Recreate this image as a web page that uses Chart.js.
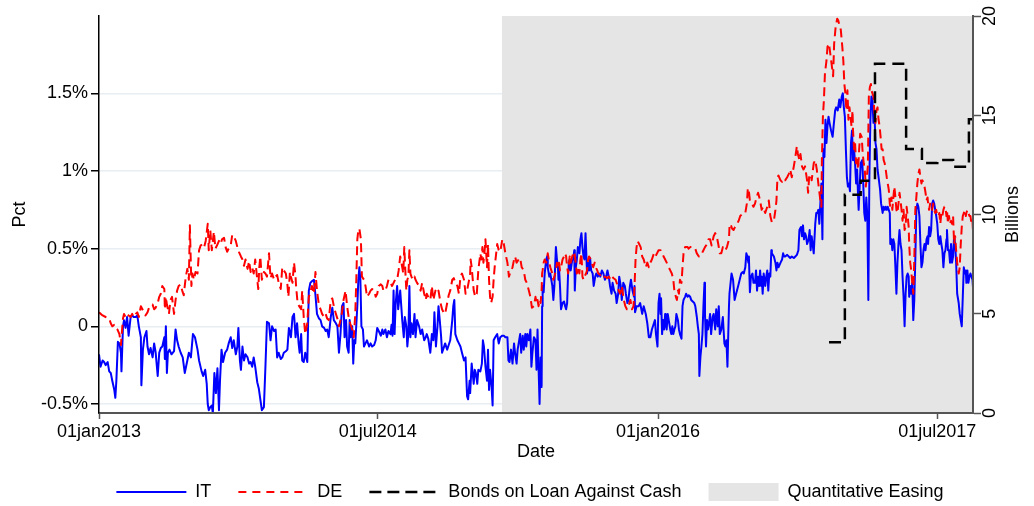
<!DOCTYPE html>
<html>
<head>
<meta charset="utf-8">
<script src="https://cdn.jsdelivr.net/npm/chart.js@4.4.0/dist/chart.umd.min.js"></script>
<style>
  html, body { margin: 0; padding: 0; background: #fff; }
</style>
</head>
<body>
<canvas id="myChart" width="1034" height="506"></canvas>
<script>
// x values are days since 01jan2013
const itDays = [
  0,3,7,10,13,17,20,23,26,30, 32,34,37,40,43,44,47,49,52,55, 58,62,65,68,72,75,78,82,83,86,
  89,93,95,98,101,105,108,111,115,118, 121,124,128,129,131,133,135,138,142,147, 150,153,156,160,164,168,173,176,180,184,
  188,193,196,201,204,208,211,213,215,218, 221,223,226,229,232,235,237,240,243,247, 251,254,258,261,264,268,271,273,276,278,
  281,284,287,291,294,297,300,303,306,310, 313,316,319,323,326,329,333,336,339,343, 346,349,352,356,359,362,366,369,372,376,
  379,382,385,388,391,393,396,398,401,404, 408,411,414,417,421,424,427,431,434,437, 441,444,447,450,454,457,460,464,467,470,
  473,476,479,481,484,486,489,491,493,496, 498,500,502,506,508,510,512,514,517,519, 522,525,529,532,535,539,542,545,548,552,
  555,557,561,564,567,571,573,575,577,579, 581,584,586,588,590,594,597,599,602,604, 606,608,610,612,615,618,620,623,627,630,
  633,637,640,642,645,649,652,655,657,660, 663,665,668,670,672,675,678,682,685,688, 692,694,696,698,702,705,708,711,715,718,
  721,723,726,727,730,734,736,738,741,743, 747,750,752,754,757,760,762,764,766,769, 771,773,776,780,783,786,790,793,796,800,
  802,804,807,810,813,815,818,820,823,825, 827,830,832,835,837,839,842,845,847,849, 852,855,857,859,861,863,865,867,868,869,
  871,873,876,878,879,882,884,886,888,890, 892,895,897,899,900,901,903,905,908,911, 913,915,917,919,920,922,924,927,929,931,
  932,934,936,938,941,943,945,947,949,951, 953,956,958,960,962,964,967,969,972,974, 977,980,982,985,988,991,994,996,999,1001,
  1004,1006,1009,1012,1014,1017,1019,1022,1024,1027, 1030,1032,1035,1037,1040,1042,1045,1048,1049,1050, 1053,1057,1060,1064,1067,1071,1074,1077,1080,1083,
  1087,1089,1091,1094,1096,1098,1100,1101,1103,1105, 1107,1109,1110,1112,1114,1117,1119,1121,1123,1125, 1127,1129,1131,1134,1136,1138,1141,1143,1145,1148,
  1150,1153,1155,1158,1160,1163,1166,1168,1171,1173, 1175,1176,1178,1180,1182,1184,1186,1187,1189,1191, 1193,1195,1197,1199,1202,1204,1207,1209,1212,1214,
  1216,1219,1222,1225,1227,1229,1231,1234,1235,1239, 1242,1245,1248,1252,1255,1258,1261,1263,1266,1268, 1270,1272,1273,1275,1277,1280,1282,1285,1287,1289,
  1291,1293,1295,1297,1298,1300,1302,1305,1307,1309, 1311,1313,1315,1317,1318,1322,1325,1327,1329,1331, 1335,1338,1340,1342,1344,1348,1351,1354,1357,1361,
  1364,1367,1370,1372,1375,1377,1379,1381,1383,1385, 1387,1390,1392,1394,1396,1400,1403,1405,1407,1409, 1411,1413,1415,1417,1419,1421,1423,1425,1427,1429,
  1431,1434,1437,1439,1442,1444,1447,1450,1452,1455, 1457,1459,1461,1463,1465,1467,1469,1471,1473,1475, 1477,1479,1481,1483,1485,1487,1488,1490,1492,1495,
  1497,1499,1501,1503,1505,1507,1509,1511,1513,1515, 1517,1519,1521,1523,1525,1527,1530,1532,1535,1537, 1539,1541,1543,1545,1547,1549,1550,1552,1554,1556,
  1558,1560,1562,1564,1566,1568,1570,1572,1574,1576, 1578,1580,1582,1584,1586,1587,1589,1591,1593,1595, 1597,1599,1601,1603,1605,1607,1609,1611,1613,1615,
  1617,1619,1621,1623,1624,1626,1628,1630,1632,1634, 1636,1638,1640,1642,1644,1646,1648,1650,1652,1654, 1656,1658,1660,1661,1663,1665,1667,1669,1671,1673,
  1675,1677,1679,1681,1684,1686,1688,1690,1692,1694, 1696,1698,1699,1701,1703,1705,1707,1709,1711, 1712
]
const itPct = [
  -0.18,-0.26,-0.22,-0.23,-0.25,-0.23,-0.29,-0.30,-0.35,-0.41, -0.46,-0.35,-0.10,-0.11,-0.17,-0.29,0.00,0.04,-0.01,0.06, -0.06,0.06,0.07,0.06,0.06,0.07,0.00,-0.07,-0.38,-0.15,
  -0.07,-0.03,-0.13,-0.18,-0.14,-0.20,-0.11,-0.17,-0.32,-0.17, -0.14,-0.13,-0.07,-0.21,0.00,-0.30,-0.17,-0.15,-0.18,-0.16, -0.02,-0.09,-0.13,-0.17,-0.20,-0.30,-0.22,-0.17,-0.20,-0.05,
  -0.07,-0.15,-0.22,-0.29,-0.32,-0.28,-0.37,-0.50,-0.54,-0.52, -0.51,-0.56,-0.30,-0.43,-0.27,-0.54,-0.35,-0.15,-0.23,-0.17, -0.15,-0.11,-0.07,-0.14,-0.09,-0.18,-0.13,-0.01,-0.22,-0.28,
  -0.13,-0.22,-0.18,-0.20,-0.24,-0.23,-0.26,-0.20,-0.26,-0.36, -0.40,-0.47,-0.54,-0.52,-0.26,0.03,0.02,-0.09,0.00,-0.03, -0.02,-0.20,-0.17,-0.21,-0.20,-0.17,-0.16,-0.15,-0.01,-0.07,
  0.06,0.08,-0.07,0.02,-0.11,-0.17,-0.05,-0.22,-0.23,-0.17, -0.23,0.23,0.28,0.29,0.30,0.20,0.08,0.05,0.04,0.00, -0.01,-0.03,-0.02,-0.07,0.06,0.12,0.04,0.02,0.00,-0.17,
  -0.05,0.13,0.15,-0.07,0.04,-0.13,-0.17,0.04,-0.07,0.00, -0.24,-0.09,-0.11,0.13,0.30,0.38,0.30,0.00,-0.02,-0.13, -0.11,-0.09,-0.13,-0.11,-0.13,-0.12,-0.09,-0.01,-0.03,-0.06,
  -0.02,-0.05,-0.02,-0.07,-0.03,-0.05,0.01,-0.06,0.23,-0.05, 0.14,0.26,0.11,0.17,0.23,0.04,-0.07,0.06,0.00,-0.13, -0.05,0.26,-0.07,0.02,-0.05,0.08,-0.07,0.04,0.00,-0.05,
  -0.02,-0.09,-0.07,-0.05,-0.08,-0.17,-0.05,-0.09,0.09,-0.13, 0.00,0.13,0.02,-0.06,-0.17,-0.14,-0.11,-0.15,-0.12,-0.09, 0.04,0.13,0.17,-0.05,-0.09,-0.11,-0.13,-0.17,-0.22,-0.20,
  -0.45,-0.47,-0.35,-0.43,-0.24,-0.37,-0.28,-0.30,-0.37,-0.28, -0.29,-0.24,-0.09,-0.13,-0.26,-0.35,-0.15,-0.41,-0.28,-0.39, -0.51,-0.09,-0.07,-0.05,-0.11,-0.07,-0.06,-0.06,-0.07,-0.07,
  -0.22,-0.23,-0.15,-0.24,-0.11,-0.17,-0.24,-0.15,-0.09,-0.05, -0.17,-0.06,-0.15,-0.05,-0.13,-0.05,-0.09,-0.02,-0.26,-0.17, -0.07,-0.09,-0.28,-0.02,-0.26,-0.50,-0.20,-0.39,0.13,0.26,
  0.22,0.34,0.43,0.45,0.38,0.32,0.34,0.30,0.26,0.17, 0.26,0.51,0.43,0.38,0.30,0.38,0.26,0.11,0.15,0.16, 0.13,0.11,0.15,0.36,0.41,0.43,0.36,0.43,0.43,0.49,
  0.23,0.38,0.43,0.51,0.47,0.56,0.60,0.51,0.45,0.43, 0.60,0.34,0.41,0.36,0.44,0.36,0.34,0.26,0.32,0.34, 0.32,0.34,0.32,0.36,0.34,0.30,0.33,0.36,0.31,0.26,
  0.21,0.28,0.23,0.21,0.15,0.21,0.32,0.26,0.17,0.28, 0.26,0.21,0.15,0.17,0.26,0.30,0.23,0.19,0.26,0.09, 0.13,0.13,0.15,0.08,0.13,0.08,0.02,-0.07,-0.07,-0.02,
  0.02,0.04,-0.05,-0.13,0.15,0.21,0.08,0.18,-0.05,0.04, -0.02,0.08,0.02,-0.02,0.08,0.02,-0.02,-0.05,0.00,-0.05, -0.02,0.00,0.08,0.04,-0.02,-0.05,-0.08,0.13,0.17,0.19,
  0.21,0.19,0.20,0.19,0.17,0.16,0.15,0.13,0.06,0.00, -0.05,-0.32,-0.20,-0.13,-0.05,0.13,0.28,0.08,-0.13,0.04, -0.02,0.02,0.08,-0.05,0.06,0.08,-0.02,0.11,0.00,0.13,
  -0.05,-0.02,0.06,-0.11,-0.13,-0.09,-0.26,0.13,0.21,0.34, 0.30,0.17,0.21,0.26,0.30,0.34,0.35,0.34,0.38,0.47, 0.45,0.41,0.45,0.22,0.32,0.34,0.28,0.28,0.36,0.23,
  0.32,0.26,0.36,0.26,0.32,0.21,0.34,0.26,0.32,0.36, 0.23,0.34,0.32,0.49,0.47,0.45,0.41,0.36,0.41,0.38, 0.41,0.43,0.47,0.45,0.45,0.46,0.45,0.44,0.45,0.44,
  0.45,0.46,0.49,0.62,0.64,0.58,0.65,0.56,0.60,0.58, 0.53,0.56,0.62,0.49,0.58,0.47,0.66,0.73,0.73,0.75, 0.66,0.79,0.92,0.56,1.14,1.09,1.33,1.18,1.29,1.35,
  1.31,1.26,1.22,1.29,1.39,1.41,1.39,1.46,1.41,1.48, 1.50,1.41,1.35,1.14,0.96,0.90,0.92,0.87,1.18,1.26, 1.07,1.14,1.05,0.92,1.01,0.83,0.75,0.90,1.05,1.07,
  0.92,0.73,0.68,0.83,0.71,0.17,0.96,1.33,1.48,1.46, 1.31,1.37,1.18,1.14,1.01,0.96,0.88,0.79,0.73,0.77, 0.75,0.77,0.75,0.77,0.75,0.73,0.53,0.56,0.49,0.56,
  0.53,0.38,0.21,0.41,0.53,0.62,0.53,0.49,0.32,0.19, 0.00,0.21,0.32,0.34,0.32,0.19,0.26,0.21,0.28,0.04, 0.17,0.43,0.75,0.79,0.77,0.71,0.53,0.38,0.41,0.49,
  0.53,0.49,0.56,0.58,0.53,0.64,0.58,0.62,0.79,0.81, 0.79,0.75,0.71,0.66,0.56,0.53,0.58,0.53,0.49,0.38, 0.47,0.49,0.56,0.62,0.49,0.49,0.41,0.53,0.41,0.45,
  0.58,0.53,0.41,0.21,0.15,0.08,0.04,0.00,0.19,0.38, 0.34,0.36,0.28,0.36,0.28,0.32,0.34,0.32,0.30, 0.25
]

const deDays = [
  0,7,13,20,23,26,30,33,36,40, 43,44,47,49,52,55,58,62,65,68, 72,75,78,82,85,91,95,98,101,105,
  108,111,115,118,121,124,128,129,131,133, 137,140,143,147,150,153,156,160,163,166, 170,173,176,178,181,183,186,189,193,196,
  199,203,206,209,213,215,218,221,225,228, 231,235,238,241,245,248,251,254,258,261, 264,268,271,274,278,281,284,287,291,294,
  297,300,303,306,310,312,314,316,319,323, 326,329,333,336,339,343,346,349,352,356, 359,362,366,369,371,374,376,379,382,385,
  386,389,392,396,398,401,404,408,411,414, 417,421,424,427,431,434,437,441,444,447, 450,454,457,460,464,467,470,473,476,479,
  483,486,489,492,496,499,502,504,506,508, 510,513,515,519,522,525,529,532,535,539, 542,545,548,552,555,557,561,564,567,571,
  574,577,580,584,587,590,594,596,598,600, 602,604,606,608,610,612,615,618,620,623, 627,630,633,637,640,642,645,649,652,655,
  659,662,665,669,672,675,678,682,685,688, 692,695,698,702,705,708,711,715,718,721, 725,727,728,730,734,737,740,743,747,749,
  751,753,755,757,760,762,764,766,768,771, 773,775,778,780,783,786,790,793,796,800, 803,806,810,813,815,818,822,825,828,832,
  835,838,842,845,848,852,855,857,859,861, 863,865,867,868,869,871,873,876,878,879, 882,884,886,888,890,892,895,897,899,901,
  903,905,908,911,913,915,917,919,920,922, 924,927,929,931,933,936,938,941,943,945, 947,949,951,954,956,958,960,963,965,968,
  971,973,976,978,982,985,989,992,995,999, 1002,1005,1008,1012,1015,1018,1021,1024,1028,1031, 1034,1037,1041,1044,1047,1049,1051,1053,1055,1058,
  1061,1064,1067,1071,1074,1077,1080,1083,1087,1090, 1093,1096,1100,1103,1106,1109,1112,1116,1119,1122, 1125,1127,1130,1132,1134,1136,1138,1141,1143,1145,
  1148,1150,1153,1155,1158,1162,1165,1168,1171,1175, 1178,1181,1184,1187,1191,1194,1197,1200,1204,1207, 1210,1213,1216,1219,1222,1225,1227,1230,1234,1235,
  1237,1240,1243,1246,1250,1253,1256,1259,1263,1266, 1269,1271,1273,1275,1279,1282,1285,1288,1291,1295, 1298,1301,1305,1309,1312,1315,1318,1322,1325,1327,
  1329,1331,1335,1338,1341,1344,1348,1351,1354,1357, 1361,1364,1367,1369,1372,1374,1377,1380,1383,1387, 1389,1391,1394,1396,1400,1403,1406,1409,1413,1415,
  1416,1418,1420,1422,1425,1427,1430,1433,1435,1438, 1440,1443,1446,1448,1451,1453,1456,1458,1460,1462, 1464,1466,1468,1470,1472,1474,1476,1477,1479,1481,
  1483,1485,1487,1489,1491,1494,1496,1498,1500,1502, 1504,1506,1508,1510,1512,1513,1515,1517,1519,1521, 1523,1525,1527,1529,1531,1533,1535,1537,1539,1541,
  1543,1545,1547,1549,1550,1552,1554,1556,1558,1560, 1562,1564,1566,1568,1570,1572,1574,1576,1578,1580, 1582,1584,1586,1587,1589,1591,1593,1595,1597,1599,
  1601,1603,1605,1607,1609,1611,1613,1615,1617,1619, 1621,1623,1624,1626,1628,1630,1632,1634,1636,1638, 1640,1642,1644,1646,1648,1650,1652,1654,1656,1658,
  1660,1661,1663,1665,1667,1669,1671,1673,1675,1677, 1679,1681,1684,1686,1688,1690,1692,1694,1696,1698, 1699,1701,1703,1705,1707,1709,1711,
  1712
]
const dePct = [
  0.09,0.07,0.06,0.05,0.02,0.00,0.01,-0.01,-0.02,-0.05, -0.12,-0.07,0.05,0.08,0.06,0.08,0.07,0.06,0.08,0.06, 0.08,0.09,0.06,0.13,0.11,0.07,0.09,0.12,0.13,0.14,
  0.11,0.12,0.15,0.19,0.21,0.26,0.24,0.11,0.19,0.14, 0.08,0.17,0.19,0.08,0.17,0.23,0.26,0.27,0.23,0.20, 0.32,0.37,0.30,0.65,0.26,0.34,0.30,0.35,0.34,0.49,
  0.52,0.53,0.51,0.55,0.66,0.49,0.62,0.49,0.61,0.50, 0.52,0.55,0.53,0.56,0.57,0.51,0.48,0.50,0.52,0.59, 0.58,0.55,0.51,0.48,0.45,0.43,0.39,0.43,0.37,0.42,
  0.35,0.38,0.34,0.43,0.30,0.24,0.38,0.45,0.30,0.35, 0.34,0.32,0.47,0.31,0.34,0.30,0.32,0.33,0.28,0.24, 0.38,0.36,0.34,0.27,0.19,0.35,0.32,0.28,0.41,0.32,
  0.26,0.15,0.13,0.11,0.23,0.06,-0.05,0.02,0.19,0.22, 0.26,0.21,0.35,0.23,0.13,0.11,0.08,0.06,0.08,0.05, 0.04,0.17,0.18,0.13,0.08,0.05,0.00,0.04,0.09,0.17,
  0.23,0.13,0.06,0.02,-0.02,-0.07,0.08,0.30,0.56,0.62, 0.63,0.56,0.32,0.30,0.26,0.19,0.21,0.23,0.24,0.23, 0.19,0.21,0.26,0.27,0.26,0.23,0.23,0.26,0.30,0.28,
  0.26,0.28,0.30,0.30,0.36,0.45,0.38,0.34,0.51,0.36, 0.23,0.30,0.32,0.49,0.34,0.32,0.30,0.32,0.30,0.28, 0.26,0.23,0.28,0.21,0.17,0.21,0.19,0.17,0.26,0.17,
  0.23,0.21,0.23,0.15,0.11,0.09,0.08,0.15,0.20,0.23, 0.30,0.31,0.28,0.26,0.21,0.32,0.34,0.30,0.21,0.23, 0.30,0.34,0.43,0.38,0.23,0.19,0.21,0.36,0.47,0.43,
  0.51,0.41,0.47,0.56,0.38,0.53,0.30,0.19,0.15,0.19, 0.30,0.38,0.47,0.53,0.49,0.48,0.56,0.53,0.47,0.41, 0.32,0.35,0.38,0.43,0.45,0.41,0.43,0.44,0.38,0.36,
  0.30,0.28,0.23,0.19,0.12,0.13,0.19,0.15,0.17,0.13, 0.17,0.15,0.23,0.34,0.36,0.41,0.43,0.41,0.45,0.47, 0.41,0.38,0.36,0.34,0.30,0.32,0.36,0.41,0.38,0.41,
  0.36,0.38,0.43,0.45,0.47,0.45,0.38,0.34,0.38,0.45, 0.41,0.45,0.47,0.48,0.43,0.34,0.38,0.34,0.43,0.47, 0.32,0.30,0.32,0.34,0.36,0.43,0.45,0.43,0.41,0.38,
  0.41,0.38,0.36,0.34,0.33,0.34,0.32,0.32,0.31,0.32, 0.30,0.32,0.31,0.30,0.27,0.23,0.21,0.26,0.17,0.13, 0.11,0.13,0.17,0.11,0.13,0.26,0.43,0.51,0.55,0.53,
  0.51,0.45,0.43,0.38,0.41,0.38,0.41,0.43,0.47,0.45, 0.47,0.49,0.49,0.47,0.45,0.43,0.41,0.38,0.36,0.34, 0.30,0.23,0.19,0.17,0.23,0.21,0.30,0.28,0.38,0.47,
  0.51,0.51,0.51,0.50,0.51,0.51,0.51,0.50,0.47,0.45, 0.45,0.47,0.49,0.51,0.53,0.56,0.56,0.52,0.58,0.60, 0.58,0.53,0.47,0.47,0.51,0.51,0.49,0.51,0.56,0.64,
  0.66,0.63,0.62,0.64,0.66,0.68,0.71,0.72,0.73,0.73, 0.79,0.89,0.87,0.81,0.79,0.77,0.79,0.83,0.86,0.81, 0.75,0.77,0.73,0.77,0.81,0.71,0.67,0.68,0.75,0.81,
  0.96,0.97,0.94,0.93,0.95,0.94,0.96,0.98,1.01,0.96, 1.03,1.09,1.16,1.11,1.07,1.11,1.03,1.01,1.03,0.94, 0.86,0.96,0.98,0.94,1.05,1.07,1.01,0.92,0.81,0.77,
  1.07,1.35,1.46,1.63,1.71,1.80,1.82,1.74,1.69,1.61, 1.82,1.93,1.98,1.97,1.93,1.91,1.80,1.71,1.56,1.50, 1.39,1.52,1.33,1.41,1.35,1.29,1.39,1.26,1.14,1.18,
  1.05,1.09,1.01,1.14,1.24,1.22,1.11,1.05,1.01,0.90, 0.96,1.03,1.48,1.54,1.56,1.52,1.50,1.48,1.37,1.31, 1.39,1.41,1.33,1.29,1.22,1.14,1.14,1.07,1.05,1.01,
  0.96,0.92,0.88,0.79,0.77,0.83,0.75,0.83,0.90,0.83, 0.75,0.73,0.79,0.86,0.81,0.75,0.68,0.75,0.62,0.64, 0.77,0.71,0.64,0.53,0.41,0.36,0.28,0.21,0.43,0.75,
  0.83,0.92,0.98,1.01,0.96,0.92,0.94,0.92,0.90,0.86, 0.81,0.83,0.79,0.75,0.79,0.77,0.75,0.79,0.75,0.73, 0.75,0.71,0.71,0.73,0.66,0.73,0.71,0.75,0.77,0.77,
  0.71,0.75,0.66,0.71,0.66,0.68,0.66,0.71,0.53,0.58, 0.49,0.41,0.34,0.38,0.53,0.64,0.71,0.73,0.75,0.71, 0.73,0.75,0.73,0.71,0.71,0.66,0.68,
  0.61
]

// monthly stock of bonds on loan against cash, billions (step line, right axis)
const bondDays = [1430, 1461, 1492, 1520, 1581, 1612, 1642, 1673, 1704, 1712]
const bondBn = [3.56, 11.0, 11.7, 17.6, 13.3, 12.6, 12.75, 12.4, 14.8, 14.8]

// QE period: 01mar2015 to end of sample
const qeDays = [789, 1712]

const xTickDays = [0, 546, 1095, 1642]
const xTickLabels = ['01jan2013', '01jul2014', '01jan2016', '01jul2017']
const pctTicks = [-0.5, 0, 0.5, 1, 1.5]
const pctTickLabels = ['-0.5%', '0', '0.5%', '1%', '1.5%']
const bnTicks = [0, 5, 10, 15, 20]
const pctMin = -0.558
const pctMax = 1.998
const lastDay = 1712

const FONT = '"Liberation Sans", Arial, Helvetica, sans-serif'
Chart.defaults.font.family = FONT
Chart.defaults.font.size = 18
Chart.defaults.color = '#000'

const toXY = (xs, ys) => xs.map((x, i) => ({x: x, y: ys[i]}))

const legendItems = [
  {text: 'IT', pointStyle: 'line', strokeStyle: '#0000ff', fillStyle: '#0000ff', lineWidth: 2, lineDash: [], datasetIndex: 1},
  {text: 'DE', pointStyle: 'line', strokeStyle: '#ff0000', fillStyle: '#ff0000', lineWidth: 2, lineDash: [8, 6], datasetIndex: 2},
  {text: 'Bonds on Loan Against Cash', pointStyle: 'line', strokeStyle: '#000', fillStyle: '#000', lineWidth: 2.5, lineDash: [12, 6], datasetIndex: 3},
  {text: 'Quantitative Easing', pointStyle: 'rect', strokeStyle: '#e5e5e5', fillStyle: '#e5e5e5', lineWidth: 0, datasetIndex: 0}
]

// put the one-row legend under the plot area (a bit left of its center)
const legendShift = {
  id: 'legendShift',
  afterLayout(chart) {
    const l = chart.legend
    const dx = (chart.chartArea.left + chart.chartArea.right - l.left - l.right) / 2 - 6
    l.left += dx
    l.right += dx
  }
}

// right axis labels and title are drawn rotated, like the original
const rightAxisText = {
  id: 'rightAxisText',
  afterDraw(chart) {
    const s = chart.scales.y2
    const c = chart.ctx
    c.save()
    c.fillStyle = '#000'
    c.font = '18px ' + FONT
    c.textAlign = 'center'
    c.textBaseline = 'middle'
    bnTicks.forEach(v => {
      c.save()
      c.translate(s.left + 17, s.getPixelForValue(v))
      c.rotate(-Math.PI / 2)
      c.fillText(String(v), 0, 0)
      c.restore()
    })
    c.translate(s.left + 40, (chart.chartArea.top + chart.chartArea.bottom) / 2)
    c.rotate(-Math.PI / 2)
    c.fillText('Billions', 0, 0)
    c.restore()
  }
}

let ctx = document.getElementById('myChart').getContext('2d')
let myChart = new Chart(ctx, {
  type: 'line',
  data: {
    datasets: [{
      label: 'Quantitative Easing',
      data: toXY(qeDays, qeDays.map(() => pctMax)),
      yAxisID: 'y',
      fill: 'start',
      backgroundColor: '#e5e5e5',
      borderWidth: 0,
      pointRadius: 0,
      order: 4
    }, {
      label: 'IT',
      data: toXY(itDays, itPct),
      yAxisID: 'y',
      borderColor: '#0000ff',
      borderWidth: 2,
      borderJoinStyle: 'round',
      pointRadius: 0,
      fill: false,
      order: 3
    }, {
      label: 'DE',
      data: toXY(deDays, dePct),
      yAxisID: 'y',
      borderColor: '#ff0000',
      borderWidth: 2,
      borderDash: [9, 5],
      borderJoinStyle: 'round',
      pointRadius: 0,
      fill: false,
      order: 2
    }, {
      label: 'Bonds on Loan Against Cash',
      data: toXY(bondDays, bondBn),
      yAxisID: 'y2',
      stepped: true,
      borderColor: '#000',
      borderWidth: 2.5,
      borderDash: [12, 7],
      pointRadius: 0,
      fill: false,
      order: 1
    }]
  },
  options: {
    responsive: false,
    animation: false,
    layout: {padding: {top: 16, left: 0, right: 0, bottom: -5}},
    plugins: {
      legend: {
        position: 'bottom',
        labels: {
          usePointStyle: true,
          pointStyleWidth: 70,
          boxHeight: 18,
          padding: 27,
          color: '#000',
          font: {size: 18},
          generateLabels: () => legendItems
        }
      },
      tooltip: {enabled: false}
    },
    scales: {
      x: {
        type: 'linear',
        min: 0,
        max: lastDay,
        afterBuildTicks: s => { s.ticks = xTickDays.map(v => ({value: v})) },
        afterFit: s => { s.height = 43 },
        ticks: {
          autoSkip: false,
          maxRotation: 0,
          padding: 2,
          color: '#000',
          callback: v => xTickLabels[xTickDays.indexOf(v)]
        },
        grid: {drawOnChartArea: false, tickLength: 6, tickColor: '#555', tickWidth: 1.5},
        border: {color: '#555', width: 2, z: 1},
        title: {display: true, text: 'Date', color: '#000', padding: {top: 0, bottom: -5}, font: {size: 18, lineHeight: 1}}
      },
      y: {
        position: 'left',
        min: pctMin,
        max: pctMax,
        afterBuildTicks: s => { s.ticks = pctTicks.map(v => ({value: v})) },
        afterFit: s => { s.width = 99 },
        ticks: {padding: 3, color: '#000', callback: v => pctTickLabels[pctTicks.indexOf(v)]},
        grid: {color: '#e8eef2', lineWidth: 1.5, tickLength: 8, tickColor: '#000', tickWidth: 1.5},
        border: {color: '#000', width: 1.5, z: 1},
        title: {display: true, text: 'Pct', color: '#000', padding: {top: 9, bottom: 0}}
      },
      y2: {
        position: 'right',
        min: 0,
        max: 20,
        afterBuildTicks: s => { s.ticks = bnTicks.map(v => ({value: v})) },
        afterFit: s => { s.width = 61 },
        ticks: {display: false},
        grid: {drawOnChartArea: false, tickLength: 8, tickColor: '#555', tickWidth: 1.5},
        border: {color: '#555', width: 2, z: 1}
      }
    }
  },
  plugins: [legendShift, rightAxisText]
})
</script>
</body>
</html>
